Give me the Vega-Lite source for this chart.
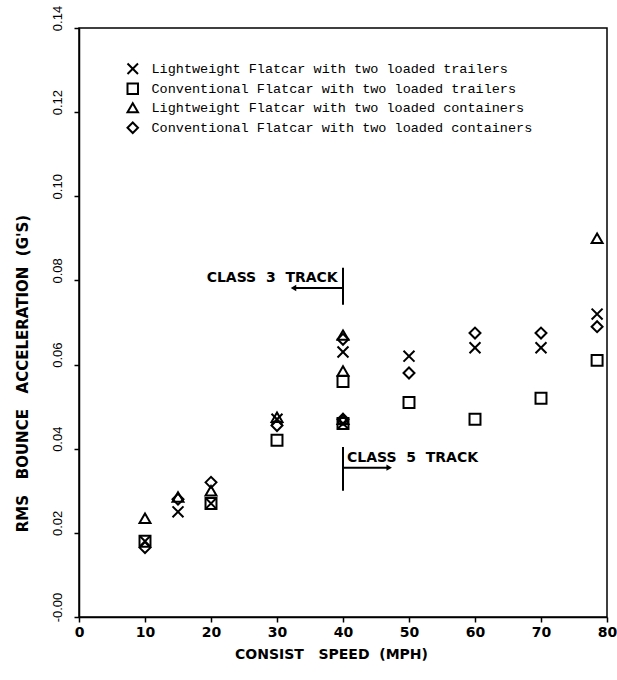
{
  "$schema": "https://vega.github.io/schema/vega-lite/v6.json",
  "width": 528,
  "height": 589,
  "autosize": {"type": "none"},
  "padding": {"left": 79, "top": 28, "right": 10, "bottom": 63},
  "background": "white",
  "config": {
    "view": {"stroke": "black", "strokeWidth": 1.5},
    "font": "Liberation Sans"
  },
  "datasets": {
    "points": [
      {"speed": 10, "rms": 0.018, "series": "Lightweight Flatcar with two loaded trailers"},
      {"speed": 15, "rms": 0.025, "series": "Lightweight Flatcar with two loaded trailers"},
      {"speed": 20, "rms": 0.027, "series": "Lightweight Flatcar with two loaded trailers"},
      {"speed": 30, "rms": 0.047, "series": "Lightweight Flatcar with two loaded trailers"},
      {"speed": 40, "rms": 0.063, "series": "Lightweight Flatcar with two loaded trailers"},
      {"speed": 40, "rms": 0.046, "series": "Lightweight Flatcar with two loaded trailers"},
      {"speed": 50, "rms": 0.062, "series": "Lightweight Flatcar with two loaded trailers"},
      {"speed": 60, "rms": 0.064, "series": "Lightweight Flatcar with two loaded trailers"},
      {"speed": 70, "rms": 0.064, "series": "Lightweight Flatcar with two loaded trailers"},
      {"speed": 78.5, "rms": 0.072, "series": "Lightweight Flatcar with two loaded trailers"},
      {"speed": 10, "rms": 0.018, "series": "Conventional Flatcar with two loaded trailers"},
      {"speed": 20, "rms": 0.027, "series": "Conventional Flatcar with two loaded trailers"},
      {"speed": 30, "rms": 0.042, "series": "Conventional Flatcar with two loaded trailers"},
      {"speed": 40, "rms": 0.056, "series": "Conventional Flatcar with two loaded trailers"},
      {"speed": 40, "rms": 0.046, "series": "Conventional Flatcar with two loaded trailers"},
      {"speed": 50, "rms": 0.051, "series": "Conventional Flatcar with two loaded trailers"},
      {"speed": 60, "rms": 0.047, "series": "Conventional Flatcar with two loaded trailers"},
      {"speed": 70, "rms": 0.052, "series": "Conventional Flatcar with two loaded trailers"},
      {"speed": 78.5, "rms": 0.061, "series": "Conventional Flatcar with two loaded trailers"},
      {"speed": 10, "rms": 0.0235, "series": "Lightweight Flatcar with two loaded containers"},
      {"speed": 15, "rms": 0.0285, "series": "Lightweight Flatcar with two loaded containers"},
      {"speed": 20, "rms": 0.030, "series": "Lightweight Flatcar with two loaded containers"},
      {"speed": 30, "rms": 0.0475, "series": "Lightweight Flatcar with two loaded containers"},
      {"speed": 40, "rms": 0.067, "series": "Lightweight Flatcar with two loaded containers"},
      {"speed": 40, "rms": 0.0585, "series": "Lightweight Flatcar with two loaded containers"},
      {"speed": 40, "rms": 0.047, "series": "Lightweight Flatcar with two loaded containers"},
      {"speed": 78.5, "rms": 0.09, "series": "Lightweight Flatcar with two loaded containers"},
      {"speed": 10, "rms": 0.0165, "series": "Conventional Flatcar with two loaded containers"},
      {"speed": 15, "rms": 0.028, "series": "Conventional Flatcar with two loaded containers"},
      {"speed": 20, "rms": 0.032, "series": "Conventional Flatcar with two loaded containers"},
      {"speed": 30, "rms": 0.0455, "series": "Conventional Flatcar with two loaded containers"},
      {"speed": 40, "rms": 0.066, "series": "Conventional Flatcar with two loaded containers"},
      {"speed": 40, "rms": 0.047, "series": "Conventional Flatcar with two loaded containers"},
      {"speed": 50, "rms": 0.058, "series": "Conventional Flatcar with two loaded containers"},
      {"speed": 60, "rms": 0.0675, "series": "Conventional Flatcar with two loaded containers"},
      {"speed": 70, "rms": 0.0675, "series": "Conventional Flatcar with two loaded containers"},
      {"speed": 78.5, "rms": 0.069, "series": "Conventional Flatcar with two loaded containers"}
    ],
    "rules": [
      {"x1": 40, "x2": 40, "y1": 0.0742, "y2": 0.083},
      {"x1": 40, "x2": 32.5, "y1": 0.0782, "y2": 0.0782},
      {"x1": 40, "x2": 40, "y1": 0.030, "y2": 0.0404},
      {"x1": 40, "x2": 47, "y1": 0.0355, "y2": 0.0355}
    ],
    "heads": [
      {"x": 32.5, "y": 0.0782, "dir": "left"},
      {"x": 47, "y": 0.0355, "dir": "right"}
    ],
    "notes": [
      {"x": 39.2, "y": 0.0806, "label": "CLASS\u00a0 3\u00a0 TRACK", "side": "left"},
      {"x": 40.6, "y": 0.0378, "label": "CLASS\u00a0 5\u00a0 TRACK", "side": "right"}
    ]
  },
  "layer": [
    {
      "data": {"name": "points"},
      "mark": {"type": "point", "filled": false, "stroke": "black", "strokeWidth": 2, "size": 120, "opacity": 1},
      "encoding": {
        "x": {
          "field": "speed", "type": "quantitative",
          "scale": {"domain": [0, 80], "nice": false, "zero": false},
          "axis": {
            "title": "CONSIST\u00a0\u00a0\u00a0SPEED\u00a0\u00a0(MPH)",
            "values": [0, 10, 20, 30, 40, 50, 60, 70, 80],
            "grid": false,
            "domainColor": "black", "domainWidth": 1.5,
            "tickColor": "black", "tickWidth": 1.5, "tickSize": 5,
            "labelFont": "DejaVu Sans", "labelFontSize": 14, "labelFontWeight": "bold", "labelColor": "black", "labelPadding": 3,
            "labelFlush": false,
            "titleFont": "DejaVu Sans", "titleFontSize": 14, "titleFontWeight": "bold", "titleColor": "black",
            "titleX": 252, "titleY": 37, "titleBaseline": "middle"
          }
        },
        "y": {
          "field": "rms", "type": "quantitative",
          "scale": {"domain": [0, 0.14], "nice": false, "zero": false},
          "axis": {
            "title": "RMS\u00a0\u00a0\u00a0BOUNCE\u00a0\u00a0\u00a0ACCELERATION\u00a0\u00a0(G'S)",
            "values": [0, 0.02, 0.04, 0.06, 0.08, 0.10, 0.12, 0.14],
            "labelExpr": "datum.value == 0 ? '-0.00' : format(datum.value, '.2f')",
            "grid": false,
            "domainColor": "black", "domainWidth": 1.5,
            "tickColor": "black", "tickWidth": 1.5, "tickSize": 5,
            "labelAngle": -90, "labelAlign": "center", "labelBaseline": "bottom",
            "labelOffset": -10, "labelPadding": 10,
            "labelFontSize": 13, "labelColor": "black", "labelFlush": false,
            "titleFont": "DejaVu Sans", "titleFontSize": 15, "titleFontWeight": "bold", "titleColor": "black",
            "titleAngle": -90, "titleX": -57, "titleY": 345, "titleBaseline": "middle"
          }
        },
        "shape": {
          "field": "series", "type": "nominal",
          "scale": {
            "domain": [
              "Lightweight Flatcar with two loaded trailers",
              "Conventional Flatcar with two loaded trailers",
              "Lightweight Flatcar with two loaded containers",
              "Conventional Flatcar with two loaded containers"
            ],
            "range": ["M-1,-1L1,1M1,-1L-1,1", "square", "triangle-up", "diamond"]
          },
          "legend": {
            "title": null,
            "orient": "none",
            "legendX": 47,
            "legendY": 34,
            "padding": 0,
            "rowPadding": 1,
            "symbolSize": 110,
            "symbolStrokeWidth": 2,
            "symbolStrokeColor": "black",
            "labelFont": "Liberation Mono",
            "labelFontSize": 13.5,
            "labelColor": "black",
            "labelOffset": 12,
            "labelLimit": 600
          }
        }
      }
    },
    {
      "data": {"name": "rules"},
      "mark": {"type": "rule", "stroke": "black", "strokeWidth": 2},
      "encoding": {
        "x": {"field": "x1", "type": "quantitative"},
        "x2": {"field": "x2"},
        "y": {"field": "y1", "type": "quantitative"},
        "y2": {"field": "y2"}
      }
    },
    {
      "data": {"name": "heads"},
      "transform": [{"filter": "datum.dir == 'left'"}],
      "mark": {"type": "point", "shape": "triangle-left", "filled": true, "color": "black", "size": 40, "opacity": 1},
      "encoding": {
        "x": {"field": "x", "type": "quantitative"},
        "y": {"field": "y", "type": "quantitative"}
      }
    },
    {
      "data": {"name": "heads"},
      "transform": [{"filter": "datum.dir == 'right'"}],
      "mark": {"type": "point", "shape": "triangle-right", "filled": true, "color": "black", "size": 40, "opacity": 1},
      "encoding": {
        "x": {"field": "x", "type": "quantitative"},
        "y": {"field": "y", "type": "quantitative"}
      }
    },
    {
      "data": {"name": "notes"},
      "transform": [{"filter": "datum.side == 'left'"}],
      "mark": {"type": "text", "align": "right", "baseline": "middle", "font": "DejaVu Sans", "fontWeight": "bold", "fontSize": 14, "color": "black"},
      "encoding": {
        "x": {"field": "x", "type": "quantitative"},
        "y": {"field": "y", "type": "quantitative"},
        "text": {"field": "label"}
      }
    },
    {
      "data": {"name": "notes"},
      "transform": [{"filter": "datum.side == 'right'"}],
      "mark": {"type": "text", "align": "left", "baseline": "middle", "font": "DejaVu Sans", "fontWeight": "bold", "fontSize": 14, "color": "black"},
      "encoding": {
        "x": {"field": "x", "type": "quantitative"},
        "y": {"field": "y", "type": "quantitative"},
        "text": {"field": "label"}
      }
    }
  ]
}
